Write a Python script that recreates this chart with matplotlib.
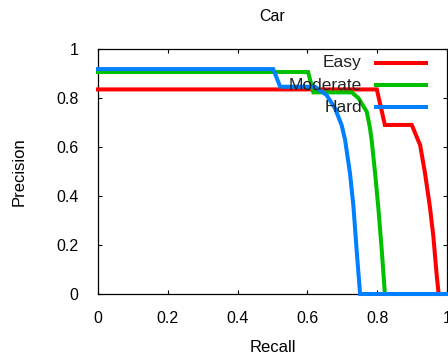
import matplotlib
matplotlib.use("Agg")
import matplotlib.pyplot as plt

plt.rcParams['font.family'] = ['Liberation Sans', 'DejaVu Sans']

easy_recall = [0, 0.799, 0.822, 0.899, 0.923, 0.937, 0.951, 0.961, 0.970, 0.976, 1.0]
easy_prec = [0.835, 0.835, 0.69, 0.69, 0.608, 0.493, 0.356, 0.234, 0.084, 0.0, 0.0]

mod_recall = [0, 0.602, 0.617, 0.727, 0.746, 0.770, 0.779, 0.784, 0.794, 0.803, 0.813, 0.822, 1.0]
mod_prec = [0.906, 0.906, 0.823, 0.823, 0.80, 0.744, 0.68, 0.629, 0.493, 0.356, 0.18, 0.0, 0.0]

hard_recall = [0, 0.502, 0.522, 0.622, 0.655, 0.679, 0.698, 0.708, 0.722, 0.732, 0.741, 0.751, 1.0]
hard_prec = [0.918, 0.918, 0.846, 0.846, 0.812, 0.758, 0.69, 0.629, 0.493, 0.356, 0.18, 0.0, 0.0]

labels = ["Easy", "Moderate", "Hard"]
colors = ["#ff0000", "#00c000", "#0080ff"]
xticks = [0, 0.2, 0.4, 0.6, 0.8, 1]
yticks = [0, 0.2, 0.4, 0.6, 0.8, 1]
xtick_labels = ["0", "0.2", "0.4", "0.6", "0.8", "1"]
ytick_labels = ["0", "0.2", "0.4", "0.6", "0.8", "1"]

fig = plt.figure(figsize=(4.48, 3.58), dpi=100)
ax = fig.add_axes([98/448, 1-294/358, 349/448, 245/358])

series = [(easy_recall, easy_prec), (mod_recall, mod_prec), (hard_recall, hard_prec)]
for (xs, ys), c in zip(series, colors):
    ax.plot(xs, ys, color=c, lw=2.9, clip_on=False, solid_joinstyle='miter', zorder=3)

ax.set_xlim(0, 1)
ax.set_ylim(0, 1)
ax.set_xticks(xticks)
ax.set_xticklabels(xtick_labels)
ax.set_yticks(yticks)
ax.set_yticklabels(ytick_labels)
ax.tick_params(direction='in', length=3, width=0.8, top=True, right=True,
               labelsize=11.5, colors='black')
ax.tick_params(axis='x', pad=12)
ax.tick_params(axis='y', pad=14)
for s in ax.spines.values():
    s.set_linewidth(0.9)

ax.set_title("Car", fontsize=11.5, pad=20)
ax.set_xlabel("Recall", fontsize=12, labelpad=10)
ax.set_ylabel("Precision", fontsize=12, labelpad=21)

# gnuplot-style legend (text right-aligned, sample to the right)
leg_y = [0.943, 0.853, 0.763]
for lab, c, yy in zip(labels, colors, leg_y):
    ax.text(0.756, yy, lab, transform=ax.transAxes, ha='right', va='center',
            fontsize=12.5, color='#222222', zorder=5)
    ax.plot([0.797, 0.940], [yy, yy], transform=ax.transAxes, color=c,
            lw=2.9, zorder=5, clip_on=False)

fig.savefig("out.png", dpi=100)
